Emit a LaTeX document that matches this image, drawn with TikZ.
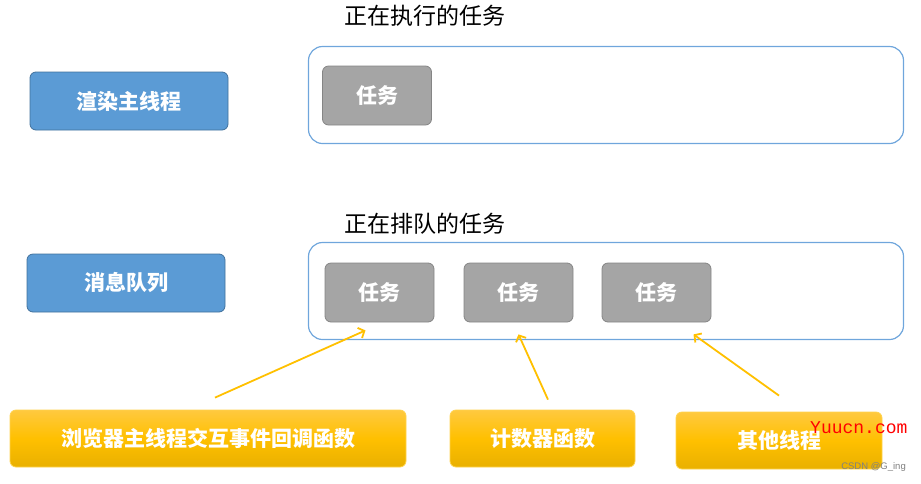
\documentclass[tikz,border=0pt]{standalone}
\usepackage{fontspec}
\newfontfamily\cjk{Noto Sans CJK SC}
\newfontfamily\markfont{Liberation Mono}
\newfontfamily\tagfont{Liberation Sans}
\usetikzlibrary{arrows.meta}
\definecolor{blueF}{HTML}{5B9BD5}
\definecolor{blueD}{HTML}{41719C}
\definecolor{laneB}{HTML}{6FA6DC}
\definecolor{grayF}{HTML}{A5A5A5}
\definecolor{grayD}{HTML}{858585}
\definecolor{yelT}{HTML}{FFC93F}
\definecolor{yelM}{HTML}{FFC000}
\definecolor{yelB}{HTML}{E9B000}
\definecolor{yelD}{HTML}{FFD34D}
\definecolor{feedY}{HTML}{FFC000}

\begin{document}
\begin{tikzpicture}[x=1pt,y=-1pt,
	box/.style={rounded corners=6pt,inner sep=0pt,line width=.8pt,text=white,font=\cjk\bfseries\fontsize{21}{21}\selectfont},
	thread/.style={box,fill=blueF,draw=blueD,minimum width=198pt,minimum height=58pt},
	task/.style={box,fill=grayF,draw=grayD,minimum width=109pt,minimum height=59pt},
	source/.style={box,draw=yelD,top color=yelT,bottom color=yelB,middle color=yelM,minimum height=57pt},
	lane/.style={draw=laneB,rounded corners=14pt,line width=1.2pt,minimum width=595pt,minimum height=97pt},
	caption/.style={font=\cjk\fontsize{23}{23}\selectfont},
	feed/.style={draw=feedY,line width=1.8pt,-{Straight Barb[length=5pt,width=11pt]}}]
	\useasboundingbox (0,0) rectangle (921,483);
	% left column
	\node[thread] (render) at (129,101) {渲染主线程};
	\node[thread] (queue) at (126,283) {消息队列};
	% lanes
	\node[lane] (run) at (606,95) {};
	\node[lane] (wait) at (606,291) {};
	\node[caption] (runcap) at (425,16) {正在执行的任务};
	\node[caption] (waitcap) at (425,224) {正在排队的任务};
	\node[task] (t0) at (377,95.5) {任务};
	\foreach \n/\x in {q1/379.5,q2/518.5,q3/656.5}
		\node[task] (\n) at (\x,292.5) {任务};
	% sources
	\node[source,minimum width=396pt] (ui) at (208,438.5) {浏览器主线程交互事件回调函数};
	\node[source,minimum width=185pt] (timer) at (542.5,438.5) {计数器函数};
	\node[source,minimum width=206pt] (other) at (779,440.5) {其他线程};
	\draw[feed] ([xshift=7pt,yshift=12pt]ui.north) -- ([xshift=-14pt,yshift=-8pt]q1.south);
	\draw[feed] ([xshift=5.5pt,yshift=10pt]timer.north) -- ([yshift=-12pt]q2.south);
	\draw[feed] ([yshift=16pt]other.north) -- ([xshift=37pt,yshift=-12pt]q3.south);
	% marks
	\node[text=red,font=\markfont\fontsize{18}{18}\selectfont,anchor=west,inner sep=0pt] (site) at (810,428) {Yuucn.com};
	\node[text=gray,font=\tagfont\fontsize{9.5}{10}\selectfont,anchor=east,inner sep=0pt] (tag) at (906,467) {CSDN @G\_ing};
\end{tikzpicture}
\end{document}
